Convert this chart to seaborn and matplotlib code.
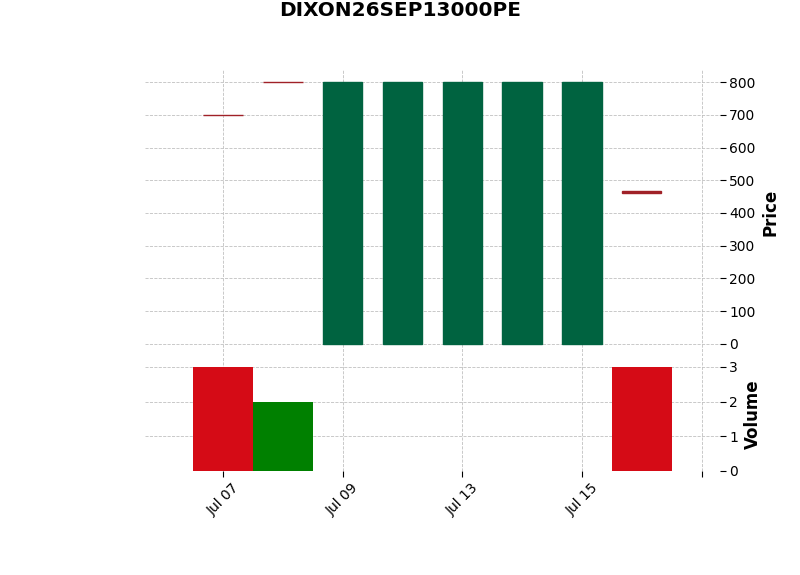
import matplotlib
matplotlib.use("Agg")
import matplotlib.pyplot as plt
import seaborn as sns
import pandas as pd

# ---------------- data ----------------
title = "DIXON26SEP13000PE"
dates = ["2026-07-07", "2026-07-08", "2026-07-09", "2026-07-10",
         "2026-07-13", "2026-07-14", "2026-07-15", "2026-07-16"]
opens = [700, 800, 0, 0, 0, 0, 0, 468]
highs = [700, 800, 800, 800, 800, 800, 800, 468]
lows = [700, 800, 0, 0, 0, 0, 0, 460]
closes = [700, 800, 800, 800, 800, 800, 800, 460]
volumes = [3, 2, 0, 0, 0, 0, 0, 3]

x_tick_positions = [0, 2, 4, 6, 8]
x_tick_labels = ["Jul 07", "Jul 09", "Jul 13", "Jul 15", ""]
price_ticks = [0, 100, 200, 300, 400, 500, 600, 700, 800]
volume_ticks = [0, 1, 2, 3]

up_color = "#006340"
down_color = "#a02128"
vol_up_color = "#008000"
vol_down_color = "#d50b16"
grid_color = "#c0c0c0"

# ---------------- style ----------------
sns.set_theme(style="white")
plt.rcParams["font.family"] = ["DejaVu Sans"]
plt.rcParams["text.color"] = "black"
plt.rcParams["axes.labelcolor"] = "black"
plt.rcParams["xtick.color"] = "black"
plt.rcParams["ytick.color"] = "black"

idx = list(range(len(dates)))
candle_colors = [up_color if c > o else down_color for o, c in zip(opens, closes)]
prev = [closes[0]] + closes[:-1]
vol_colors = [vol_up_color if c > p else vol_down_color for c, p in zip(closes, prev)]

df = pd.DataFrame({"idx": [str(i) for i in idx], "volume": volumes})
palette = {str(i): col for i, col in zip(idx, vol_colors)}

fig = plt.figure(figsize=(8.0, 5.75), dpi=100)
ax_p = fig.add_axes([0.1808, 0.3817, 0.7186, 0.4966])
ax_v = fig.add_axes([0.1808, 0.1809, 0.7186, 0.1990])

# candles
bottoms = [min(o, c) for o, c in zip(opens, closes)]
heights = [abs(c - o) for o, c in zip(opens, closes)]
ax_p.vlines(idx, lows, highs, colors=candle_colors, linewidth=1, zorder=2)
ax_p.bar(idx, heights, bottom=bottoms, width=0.66, color=candle_colors,
         edgecolor=candle_colors, linewidth=1, zorder=3)

# volume
sns.barplot(data=df, x="idx", y="volume", hue="idx", palette=palette,
            width=1.0, legend=False, ax=ax_v, saturation=1, zorder=3,
            linewidth=0)

xlim = (-1.31, 8.30)
for ax in (ax_p, ax_v):
    ax.set_xlim(*xlim)
    ax.set_xticks(x_tick_positions)
    for s in ax.spines.values():
        s.set_visible(False)
    ax.grid(True, linestyle="--", color=grid_color, linewidth=0.6, zorder=0)
    ax.set_axisbelow(True)
    ax.yaxis.tick_right()
    ax.yaxis.set_label_position("right")
    ax.tick_params(axis="y", right=True, left=False, length=4, width=0.8,
                   color="black", labelcolor="black", labelsize=10, pad=3)

ax_p.set_ylim(-36, 837.5)
ax_p.set_yticks(price_ticks)
ax_p.tick_params(axis="x", bottom=False, labelbottom=False)
ax_p.set_xlabel("")
ax_p.set_ylabel("Price", fontsize=12, fontweight="bold", labelpad=4,
                color="black")

ax_v.set_ylim(0, 3.3)
ax_v.set_yticks(volume_ticks)
ax_v.set_xticklabels(x_tick_labels, rotation=45)
ax_v.tick_params(axis="x", bottom=True, length=4, width=0.8, color="black",
                 labelcolor="black", labelsize=10, pad=3)
ax_v.set_xlabel("")
ax_v.set_ylabel("Volume", fontsize=12, fontweight="bold", labelpad=4,
                color="black")

fig.text(0.5, 0.981, title, ha="center", va="center", fontsize=14.4,
         fontweight="bold", color="black")

fig.savefig("out.png", dpi=100)
